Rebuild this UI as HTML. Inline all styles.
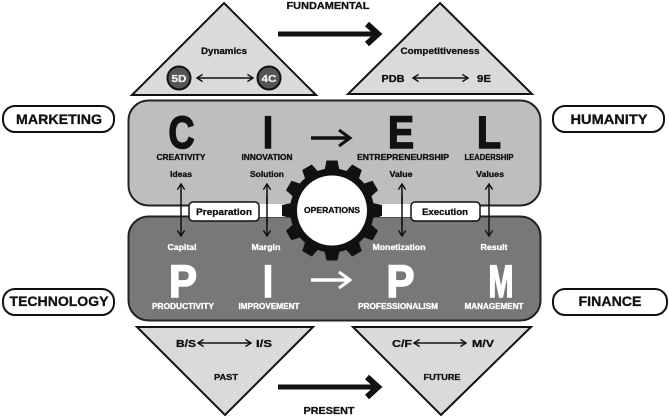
<!DOCTYPE html>
<html><head><meta charset="utf-8"><style>
html,body{margin:0;padding:0;background:#fff}
svg{display:block}
text{font-family:"Liberation Sans",sans-serif;font-weight:700;text-anchor:middle;stroke-width:.3}
g[fill="#111"] text,text[fill="#111"]{stroke:#111}
g[fill="#fff"] text{stroke:#fff}
text[fill="#eee"]{stroke:#eee}
g.big text{stroke-width:1.600px;font-size:45px}
</style></head><body>
<svg width="669" height="418" viewBox="0 0 669 418" xmlns="http://www.w3.org/2000/svg">
<defs>
<marker id="a" viewBox="0 0 10 10" refX="9" refY="5" markerWidth="8" markerHeight="8" markerUnits="userSpaceOnUse" orient="auto-start-reverse"><path d="M2 0.5L9 5L2 9.5" fill="none" stroke="#111" stroke-width="1.8"/></marker>
</defs>
<!-- triangles -->
<g fill="#d9dadb" stroke="#111" stroke-width="2">
<polygon points="224,3 316,95 132,95"/>
<polygon points="440,3 532,94 348,94"/>
<polygon points="137,327 313,327 225,415"/>
<polygon points="353,327 531,327 441,415"/>
</g>
<!-- boxes -->
<rect x="128.500" y="100.500" width="412" height="105" rx="20" fill="#bdbec0" stroke="#222" stroke-width="2"/>
<rect x="128.500" y="216.500" width="412" height="104" rx="20" fill="#77787a" stroke="#222" stroke-width="2"/>
<!-- pills -->
<g fill="#fff" stroke="#111" stroke-width="2">
<rect x="3" y="106" width="111" height="26" rx="12"/>
<rect x="3" y="289" width="111" height="26" rx="12"/>
<rect x="553" y="106" width="111" height="26" rx="12"/>
<rect x="553" y="289" width="114" height="26" rx="12"/>
</g>
<g fill="#111">
<text x="59" y="124" style="font-size:14px" textLength="86" lengthAdjust="spacingAndGlyphs">MARKETING</text>
<text x="59" y="306" style="font-size:14px" textLength="99" lengthAdjust="spacingAndGlyphs">TECHNOLOGY</text>
<text x="609" y="124" style="font-size:14px" textLength="77" lengthAdjust="spacingAndGlyphs">HUMANITY</text>
<text x="610" y="306" style="font-size:14px" textLength="63" lengthAdjust="spacingAndGlyphs">FINANCE</text>
</g>
<!-- big arrows -->
<g fill="none" stroke="#111" stroke-width="5">
<path d="M278 34H376"/><path d="M367 24L378 34L367 44" stroke-width="6"/>
<path d="M278 387H376"/><path d="M367 377L378 387L367 397" stroke-width="6"/>
<path d="M311 138H349" stroke-width="3.500"/><path d="M339 130L350 138L339 146" stroke-width="3"/>
<path d="M311 280H349" stroke="#fff" stroke-width="3.500"/><path d="M339 272L350 280L339 288" stroke="#fff" stroke-width="3"/>
</g>
<!-- top labels -->
<g fill="#111">
<text x="328" y="9" style="font-size:10.500px" textLength="83" lengthAdjust="spacingAndGlyphs">FUNDAMENTAL</text>
<text x="329" y="414" style="font-size:10.500px" textLength="51" lengthAdjust="spacingAndGlyphs">PRESENT</text>
<text x="224" y="54" style="font-size:9.500px" textLength="46" lengthAdjust="spacingAndGlyphs">Dynamics</text>
<text x="440" y="54" style="font-size:9.500px" textLength="79" lengthAdjust="spacingAndGlyphs">Competitiveness</text>
<text x="393" y="82" style="font-size:10.500px" textLength="23" lengthAdjust="spacingAndGlyphs">PDB</text>
<text x="484" y="82" style="font-size:10.500px" textLength="14" lengthAdjust="spacingAndGlyphs">9E</text>
<text x="186" y="347" style="font-size:10.500px" textLength="20" lengthAdjust="spacingAndGlyphs">B/S</text>
<text x="264" y="347" style="font-size:10.500px" textLength="16" lengthAdjust="spacingAndGlyphs">I/S</text>
<text x="402" y="347" style="font-size:10.500px" textLength="20" lengthAdjust="spacingAndGlyphs">C/F</text>
<text x="483" y="347" style="font-size:10.500px" textLength="22" lengthAdjust="spacingAndGlyphs">M/V</text>
<text x="226" y="380" style="font-size:8.500px" textLength="24" lengthAdjust="spacingAndGlyphs">PAST</text>
<text x="442" y="380" style="font-size:8.500px" textLength="37" lengthAdjust="spacingAndGlyphs">FUTURE</text>
</g>
<g fill="#555" stroke="#111" stroke-width="2">
<circle cx="179" cy="78" r="11.500"/><circle cx="269" cy="78" r="11.500"/>
</g>
<text x="179" y="82" fill="#eee" style="font-size:10.500px" textLength="15" lengthAdjust="spacingAndGlyphs">5D</text>
<text x="269" y="82" fill="#eee" style="font-size:10.500px" textLength="15" lengthAdjust="spacingAndGlyphs">4C</text>
<!-- thin double arrows -->
<g fill="none" stroke="#111" stroke-width="1.500">
<path d="M197 78H253" marker-start="url(#a)" marker-end="url(#a)"/>
<path d="M413 78H468" marker-start="url(#a)" marker-end="url(#a)"/>
<path d="M198 343H251" marker-start="url(#a)" marker-end="url(#a)"/>
<path d="M414 343H466" marker-start="url(#a)" marker-end="url(#a)"/>
<path d="M181 184V236" marker-start="url(#a)" marker-end="url(#a)"/>
<path d="M267 184V236" marker-start="url(#a)" marker-end="url(#a)"/>
<path d="M402 184V236" marker-start="url(#a)" marker-end="url(#a)"/>
<path d="M489 184V236" marker-start="url(#a)" marker-end="url(#a)"/>
</g>
<!-- big letters -->
<g fill="#111" class="big">
<text x="181.500" y="148" textLength="26" lengthAdjust="spacingAndGlyphs">C</text>
<text x="268" y="148" textLength="10" lengthAdjust="spacingAndGlyphs">I</text>
<text x="401" y="148" textLength="26" lengthAdjust="spacingAndGlyphs">E</text>
<text x="489" y="148" textLength="24" lengthAdjust="spacingAndGlyphs">L</text>
</g>
<g fill="#fff" class="big">
<text x="183" y="297" textLength="28" lengthAdjust="spacingAndGlyphs">P</text>
<text x="268" y="297" textLength="10" lengthAdjust="spacingAndGlyphs">I</text>
<text x="400.500" y="297" textLength="28" lengthAdjust="spacingAndGlyphs">P</text>
<text x="501" y="297" textLength="25" lengthAdjust="spacingAndGlyphs">M</text>
</g>
<!-- upper captions -->
<g fill="#111">
<text x="181" y="160" style="font-size:8px" textLength="49" lengthAdjust="spacingAndGlyphs">CREATIVITY</text>
<text x="267" y="160" style="font-size:8px" textLength="51" lengthAdjust="spacingAndGlyphs">INNOVATION</text>
<text x="403" y="160" style="font-size:8px" textLength="92" lengthAdjust="spacingAndGlyphs">ENTREPRENEURSHIP</text>
<text x="489" y="160" style="font-size:8px" textLength="49" lengthAdjust="spacingAndGlyphs">LEADERSHIP</text>
<text x="181" y="177" style="font-size:8.500px" textLength="22" lengthAdjust="spacingAndGlyphs">Ideas</text>
<text x="267" y="177" style="font-size:8.500px" textLength="34" lengthAdjust="spacingAndGlyphs">Solution</text>
<text x="401" y="177" style="font-size:8.500px" textLength="23" lengthAdjust="spacingAndGlyphs">Value</text>
<text x="490" y="177" style="font-size:8.500px" textLength="28" lengthAdjust="spacingAndGlyphs">Values</text>
</g>
<g fill="#fff">
<text x="182" y="250" style="font-size:8.500px" textLength="29" lengthAdjust="spacingAndGlyphs">Capital</text>
<text x="266" y="250" style="font-size:8.500px" textLength="29" lengthAdjust="spacingAndGlyphs">Margin</text>
<text x="399" y="250" style="font-size:8.500px" textLength="53" lengthAdjust="spacingAndGlyphs">Monetization</text>
<text x="494" y="250" style="font-size:8.500px" textLength="27" lengthAdjust="spacingAndGlyphs">Result</text>
<text x="183" y="309" style="font-size:8px" textLength="62" lengthAdjust="spacingAndGlyphs">PRODUCTIVITY</text>
<text x="269" y="309" style="font-size:8px" textLength="61" lengthAdjust="spacingAndGlyphs">IMPROVEMENT</text>
<text x="398" y="309" style="font-size:8px" textLength="80" lengthAdjust="spacingAndGlyphs">PROFESSIONALISM</text>
<text x="494" y="309" style="font-size:8px" textLength="59" lengthAdjust="spacingAndGlyphs">MANAGEMENT</text>
</g>
<!-- preparation / execution bar -->
<rect x="259" y="204" width="30" height="13" fill="#fff"/>
<rect x="380" y="204" width="31" height="13" fill="#fff"/>
<path d="M267 195V225M402 195V225" stroke="#111" stroke-width="1.500"/>
<rect x="189" y="202" width="70" height="19" rx="4" fill="#fff" stroke="#111" stroke-width="1.500"/>
<rect x="411" y="202" width="69" height="19" rx="4" fill="#fff" stroke="#111" stroke-width="1.500"/>
<text x="224" y="215" fill="#111" style="font-size:9.500px" textLength="56" lengthAdjust="spacingAndGlyphs">Preparation</text>
<text x="445" y="215" fill="#111" style="font-size:9.500px" textLength="46" lengthAdjust="spacingAndGlyphs">Execution</text>
<!-- gear -->
<g fill="#111" transform="translate(332 210.500)">
<circle r="42"/>
<polygon points="-5.500,-50 5.500,-50 8,-38 -8,-38"/>
<polygon points="-5.500,-50 5.500,-50 8,-38 -8,-38" transform="rotate(30)"/>
<polygon points="-5.500,-50 5.500,-50 8,-38 -8,-38" transform="rotate(60)"/>
<polygon points="-5.500,-50 5.500,-50 8,-38 -8,-38" transform="rotate(90)"/>
<polygon points="-5.500,-50 5.500,-50 8,-38 -8,-38" transform="rotate(120)"/>
<polygon points="-5.500,-50 5.500,-50 8,-38 -8,-38" transform="rotate(150)"/>
<polygon points="-5.500,-50 5.500,-50 8,-38 -8,-38" transform="rotate(180)"/>
<polygon points="-5.500,-50 5.500,-50 8,-38 -8,-38" transform="rotate(210)"/>
<polygon points="-5.500,-50 5.500,-50 8,-38 -8,-38" transform="rotate(240)"/>
<polygon points="-5.500,-50 5.500,-50 8,-38 -8,-38" transform="rotate(270)"/>
<polygon points="-5.500,-50 5.500,-50 8,-38 -8,-38" transform="rotate(300)"/>
<polygon points="-5.500,-50 5.500,-50 8,-38 -8,-38" transform="rotate(330)"/>
<circle r="35" fill="#fff"/>
</g>
<text x="332" y="213" fill="#111" style="font-size:8.500px" textLength="56" lengthAdjust="spacingAndGlyphs">OPERATIONS</text>
</svg>
</body></html>
